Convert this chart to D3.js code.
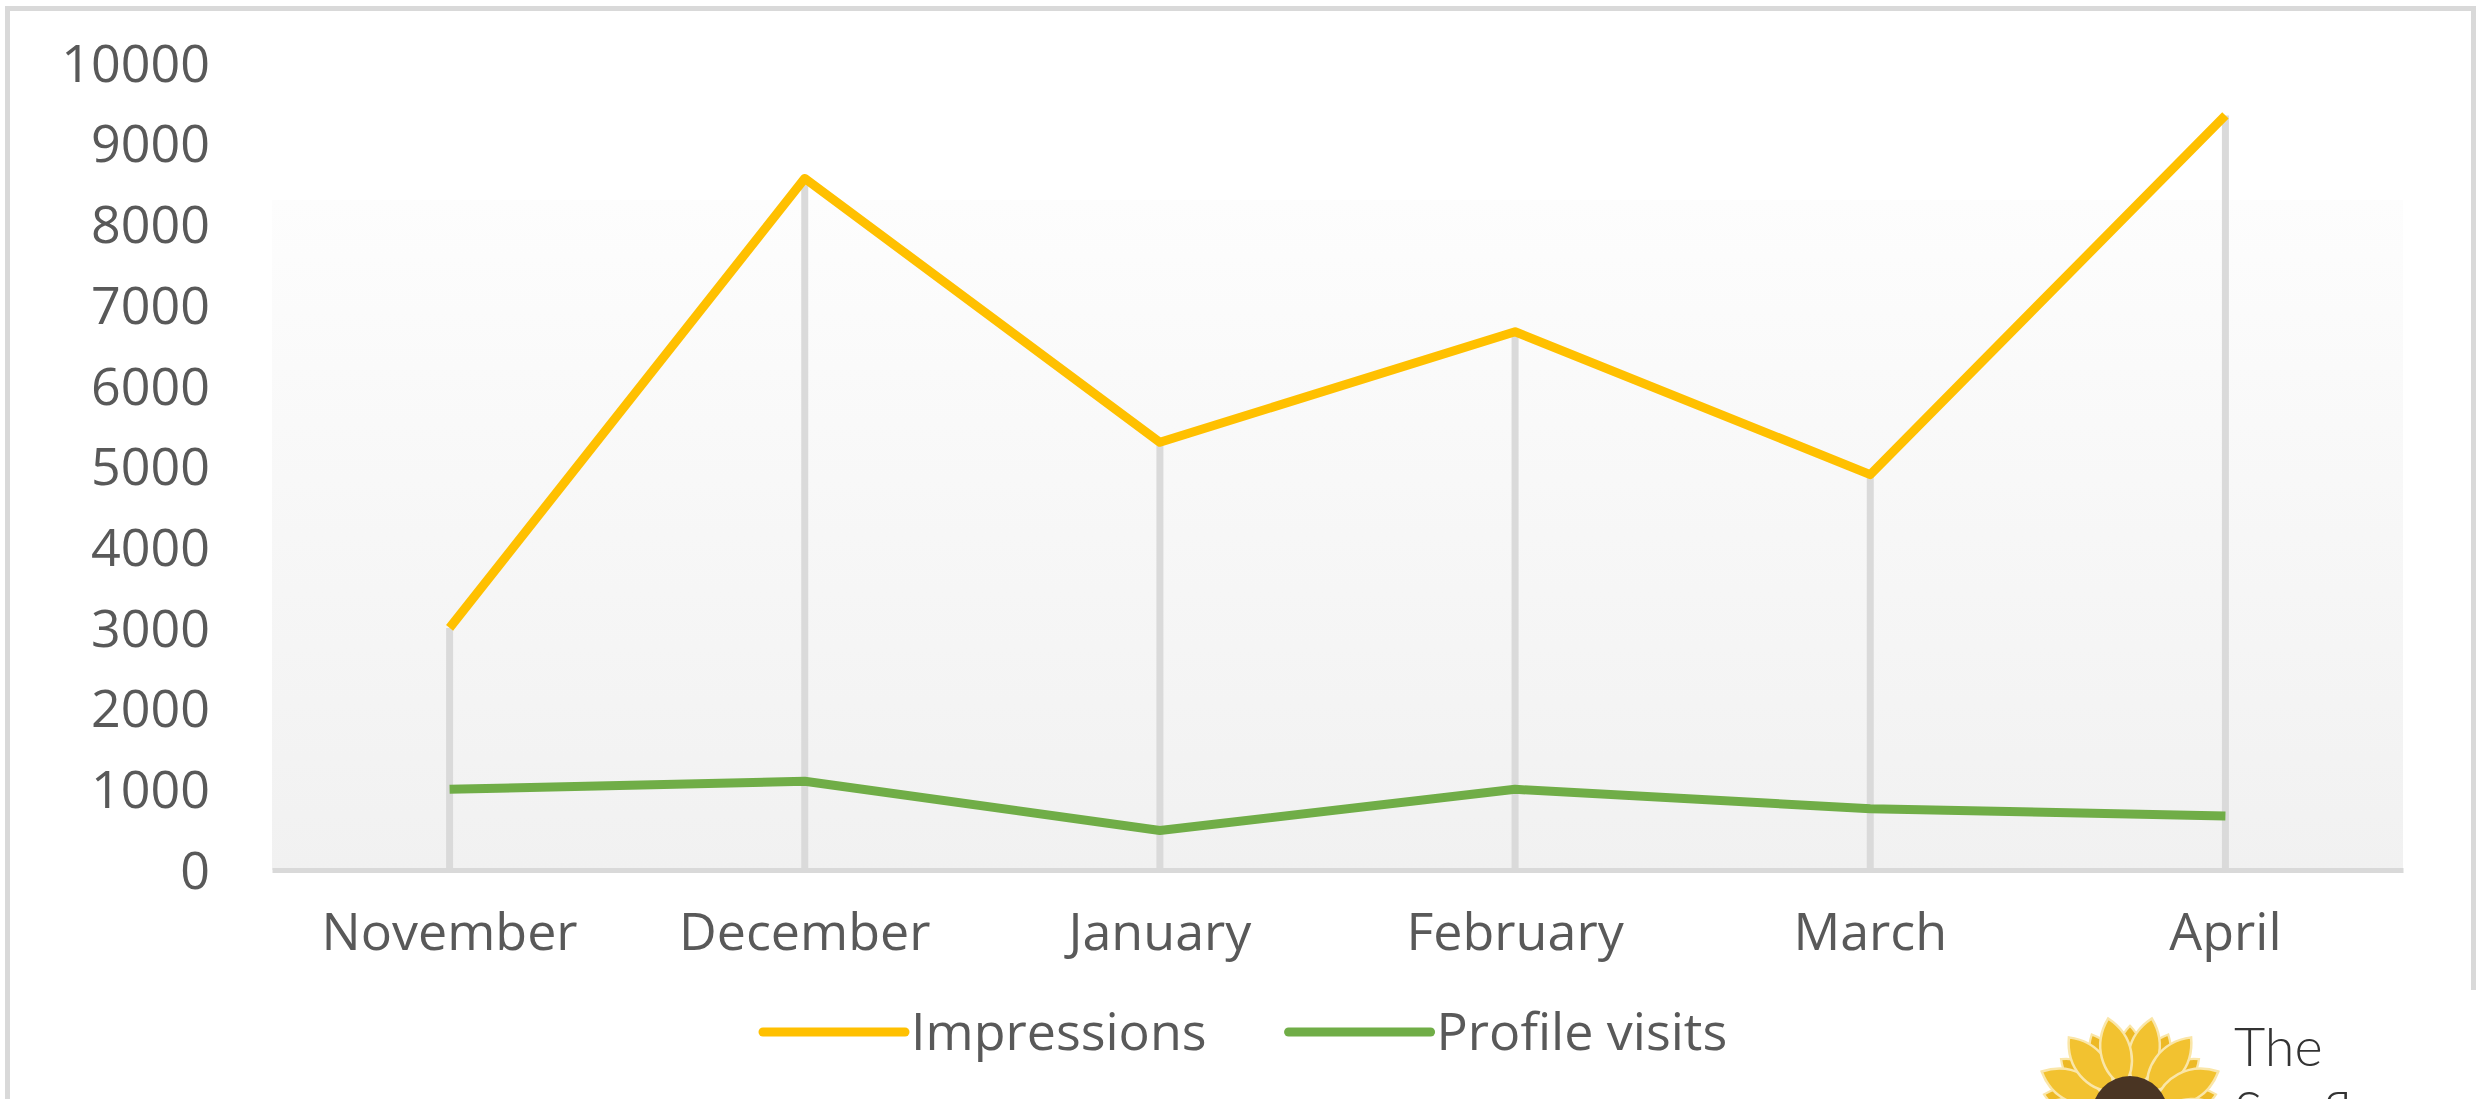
<!DOCTYPE html>
<html>
<head>
<meta charset="utf-8">
<script src="https://cdn.jsdelivr.net/npm/d3@7"></script>
<style>
  html, body { margin: 0; padding: 0; background: #fff; overflow: hidden; }
  text { font-family: "Open Sans", sans-serif; fill: #595959; }
</style>
</head>
<body>
<div id="LINE_CHART"></div>
<script>
var WIDTH = 2476, HEIGHT = 1099;

var months = ["November", "December", "January", "February", "March", "April"];
var impressions = [3000, 8570, 5300, 6670, 4900, 9350];
var profileVisits = [1000, 1100, 490, 1000, 760, 670];
var yTicks = [0, 1000, 2000, 3000, 4000, 5000, 6000, 7000, 8000, 9000, 10000];
var seriesNames = ["Impressions", "Profile visits"];
var seriesColors = ["#FFC000", "#70AD47"];

var PLOT = { LEFT: 272, RIGHT: 2403, TOP: 63, BOTTOM: 870 };

var svg = d3.select("#LINE_CHART")
    .append("svg")
    .attr("width", WIDTH)
    .attr("height", HEIGHT);

// soft grey gradient behind the plot, like the Excel plot area
var grad = svg.append("defs").append("linearGradient")
    .attr("id", "plotFill")
    .attr("x1", 0).attr("y1", 0).attr("x2", 0).attr("y2", 1);
grad.append("stop").attr("offset", "0%").attr("stop-color", "#fdfdfd");
grad.append("stop").attr("offset", "100%").attr("stop-color", "#f1f1f1");

// outer chart frame
svg.append("rect")
    .attr("x", 7.5).attr("y", 8.5)
    .attr("width", 2466).attr("height", 1200)
    .attr("fill", "none")
    .attr("stroke", "#d9d9d9")
    .attr("stroke-width", 5);

var x = d3.scaleBand()
    .domain(months)
    .range([PLOT.LEFT, PLOT.RIGHT]);

var y = d3.scaleLinear()
    .domain([0, 10000])
    .range([PLOT.BOTTOM, PLOT.TOP]);

svg.append("rect")
    .attr("x", PLOT.LEFT).attr("y", 200)
    .attr("width", PLOT.RIGHT - PLOT.LEFT)
    .attr("height", PLOT.BOTTOM - 200)
    .attr("fill", "url(#plotFill)");

// y axis labels only (no gridlines in the original)
var yAxis = svg.append("g")
    .attr("transform", "translate(" + (PLOT.LEFT - 62) + ",0)")
    .call(d3.axisLeft(y).tickValues(yTicks).tickSize(0).tickPadding(0).tickFormat(d3.format("d")));
yAxis.select(".domain").remove();
yAxis.selectAll("text")
    .attr("font-size", 52)
    .attr("dy", "0.35em")
    .style("font-family", "'Open Sans', sans-serif")
    .style("fill", "#595959");

// drop lines from the axis up to the top series
svg.selectAll("dropLines")
    .data(months)
    .enter()
    .append("line")
    .attr("x1", function(d) { return x(d) + x.bandwidth() / 2; })
    .attr("x2", function(d) { return x(d) + x.bandwidth() / 2; })
    .attr("y1", y(0))
    .attr("y2", function(d, i) { return y(Math.max(impressions[i], profileVisits[i])); })
    .attr("stroke", "#dadada")
    .attr("stroke-width", 7);

// x axis
var xAxis = svg.append("g")
    .attr("transform", "translate(0," + y(0) + ")")
    .call(d3.axisBottom(x).tickSize(0).tickPadding(0));
xAxis.select(".domain")
    .attr("stroke", "#d9d9d9")
    .attr("stroke-width", 5);
xAxis.selectAll("text")
    .attr("font-size", 52)
    .attr("y", 62)
    .attr("dy", "0.35em")
    .style("font-family", "'Open Sans', sans-serif")
    .style("fill", "#595959");

var line = d3.line()
    .x(function(d, i) { return x(months[i]) + x.bandwidth() / 2; })
    .y(function(d) { return y(d); });

[impressions, profileVisits].forEach(function(values, k) {
    svg.append("path")
        .datum(values)
        .attr("d", line)
        .attr("fill", "none")
        .attr("stroke", seriesColors[k])
        .attr("stroke-width", 9)
        .attr("stroke-linejoin", "round")
        .attr("stroke-linecap", "butt");
});

// legend
var legend = svg.append("g").attr("transform", "translate(763,1032)");
var lx = 0;
seriesNames.forEach(function(name, k) {
    legend.append("line")
        .attr("x1", lx).attr("x2", lx + 142)
        .attr("stroke", seriesColors[k])
        .attr("stroke-width", 9)
        .attr("stroke-linecap", "round");
    var t = legend.append("text")
        .attr("x", lx + 148)
        .attr("dy", "0.35em")
        .attr("font-size", 52)
        .text(name);
    lx += 148 + t.node().getComputedTextLength() + 82;
});

// logo in the lower right corner
var logo = svg.append("g");
logo.append("rect")
    .attr("x", 2030).attr("y", 990)
    .attr("width", 446).attr("height", 109)
    .attr("fill", "#ffffff");
var flower = logo.append("g").attr("transform", "translate(2130,1114)");
var petal = "M0,-28 C18,-45 22,-75 0,-98 C-22,-75 -18,-45 0,-28 Z";
[0, 1].forEach(function(layer) {
    d3.range(14).forEach(function(i) {
        flower.append("path")
            .attr("d", petal)
            .attr("transform", "rotate(" + (i * (360 / 14) + layer * (180 / 14)) + ") scale(" + (layer ? 1 : 0.9) + ")")
            .attr("fill", layer ? "#F2C230" : "#EDB925")
            .attr("stroke", "#FAE6A8")
            .attr("stroke-width", 2.5);
    });
});
flower.append("circle")
    .attr("r", 38)
    .attr("fill", "#4a3523");
logo.append("text")
    .attr("x", 2234).attr("y", 1066)
    .attr("font-size", 54)
    .style("font-family", "Lato, sans-serif")
    .style("font-weight", 300)
    .style("fill", "#333")
    .text("The");
logo.append("text")
    .attr("x", 2234).attr("y", 1130)
    .attr("font-size", 54)
    .style("font-family", "Lato, sans-serif")
    .style("font-weight", 300)
    .style("fill", "#333")
    .text("Sunflower");
</script>
</body>
</html>
